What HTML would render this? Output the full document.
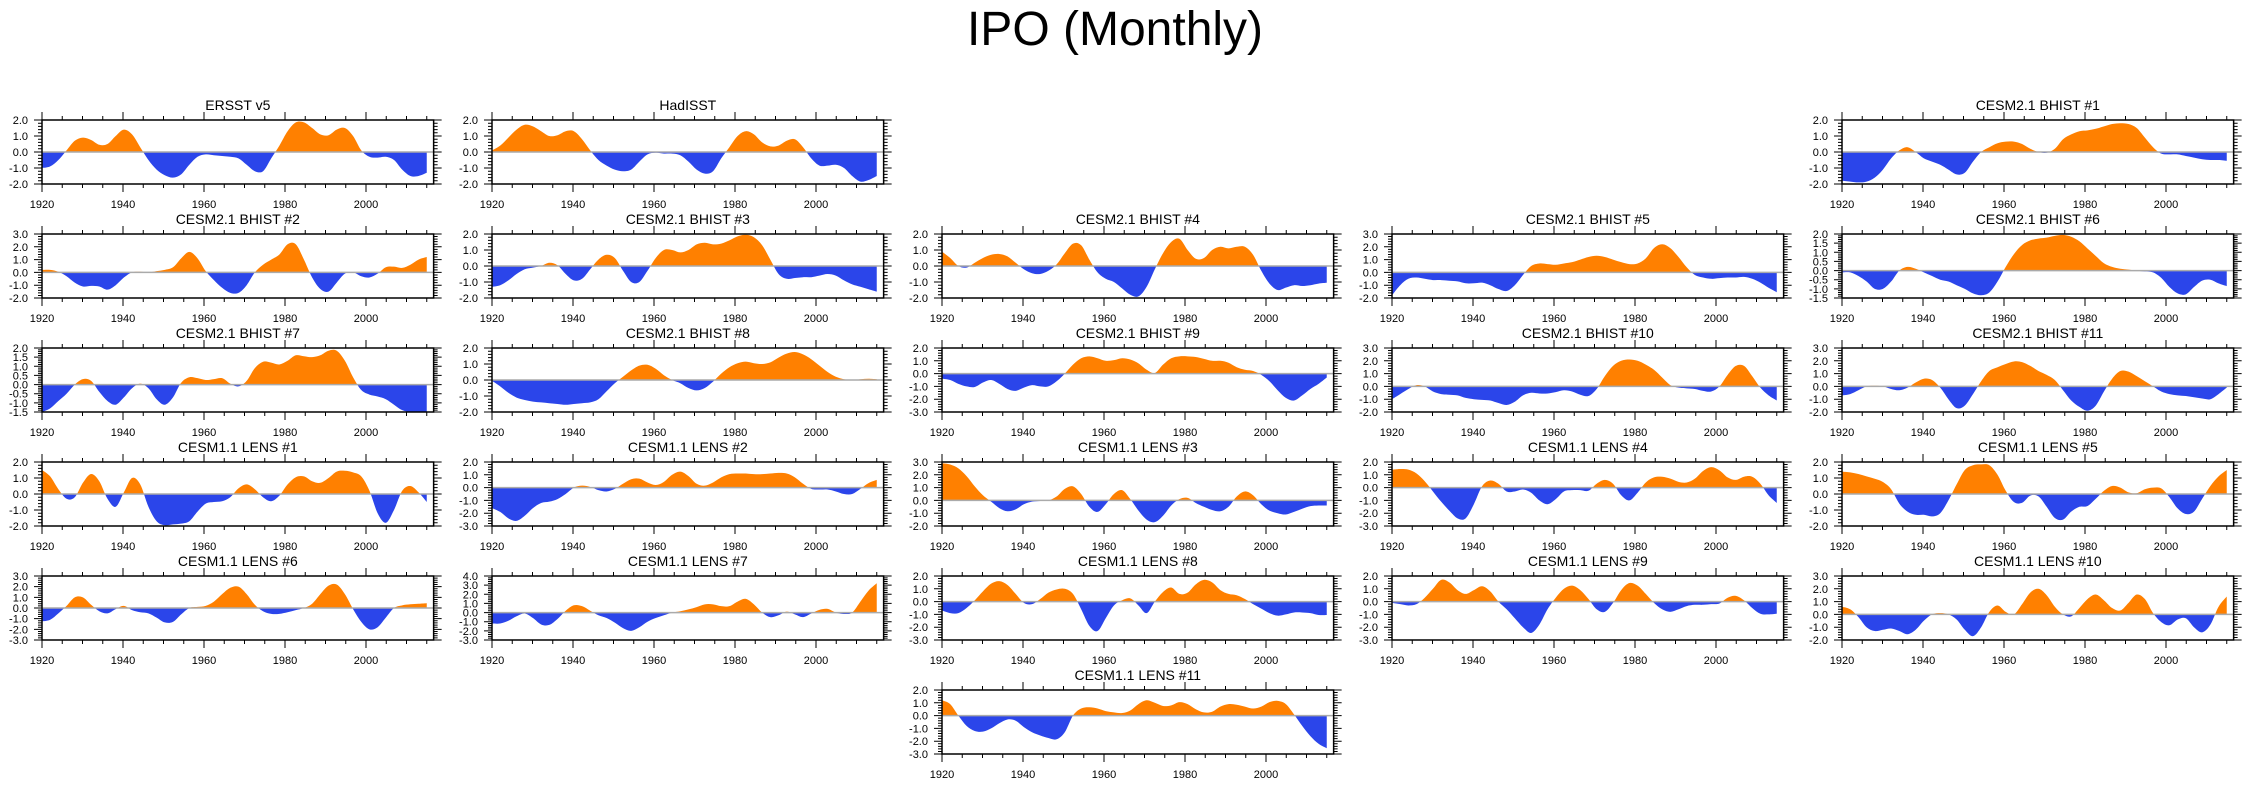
<!DOCTYPE html>
<html><head><meta charset="utf-8"><style>
html,body{margin:0;padding:0;background:#fff}
svg{display:block}
text{font-family:"Liberation Sans",sans-serif;fill:#000}
</style></head><body>
<svg id="chart" width="2245" height="786" viewBox="0 0 2245 786" xmlns="http://www.w3.org/2000/svg">
<text x="1115" y="45" font-size="48" text-anchor="middle">IPO (Monthly)</text>
</svg>
<script>
const ersst=[-1.0,-0.9,-0.5,0.1,0.7,0.9,0.75,0.45,0.5,1.0,1.4,1.1,0.3,-0.5,-1.1,-1.45,-1.6,-1.4,-0.8,-0.3,-0.15,-0.2,-0.25,-0.3,-0.4,-0.8,-1.2,-1.2,-0.4,0.4,1.3,1.85,1.85,1.5,1.1,1.05,1.4,1.5,1.0,0.1,-0.3,-0.35,-0.3,-0.5,-1.1,-1.5,-1.5,-1.3];
const hadisst=[0.1,0.4,0.9,1.4,1.7,1.6,1.3,1.0,1.05,1.3,1.3,0.8,0.1,-0.5,-0.85,-1.1,-1.2,-1.1,-0.6,-0.15,-0.05,-0.1,-0.1,-0.2,-0.6,-1.1,-1.35,-1.2,-0.4,0.3,1.0,1.3,1.1,0.6,0.35,0.4,0.7,0.8,0.3,-0.4,-0.85,-0.85,-0.8,-1.0,-1.5,-1.85,-1.75,-1.5];
const bhist1=[-1.8,-1.85,-1.9,-1.85,-1.6,-1.1,-0.4,0.1,0.3,0.0,-0.4,-0.6,-0.8,-1.1,-1.4,-1.3,-0.6,0.0,0.3,0.55,0.65,0.65,0.5,0.2,0.0,-0.05,0.2,0.8,1.1,1.3,1.35,1.45,1.6,1.75,1.8,1.75,1.5,0.9,0.3,-0.1,-0.15,-0.15,-0.25,-0.35,-0.45,-0.5,-0.5,-0.55];
const bhist2=[0.2,0.2,0.05,-0.3,-0.8,-1.1,-1.05,-1.1,-1.35,-1.0,-0.4,0.0,0.05,0.0,0.1,0.2,0.4,1.1,1.6,1.1,0.1,-0.6,-1.2,-1.6,-1.6,-1.0,0.0,0.6,1.0,1.4,2.2,2.2,1.0,-0.4,-1.3,-1.5,-0.8,-0.1,0.0,-0.3,-0.4,-0.1,0.4,0.45,0.35,0.6,1.0,1.2];
const bhist3=[-1.3,-1.2,-0.9,-0.5,-0.2,-0.1,0.0,0.2,0.05,-0.5,-0.9,-0.8,-0.2,0.4,0.7,0.5,-0.3,-1.0,-1.0,-0.3,0.5,1.0,1.0,0.85,1.0,1.35,1.45,1.35,1.4,1.6,1.85,1.95,1.8,1.3,0.4,-0.5,-0.8,-0.75,-0.7,-0.7,-0.6,-0.5,-0.6,-0.9,-1.15,-1.3,-1.45,-1.6];
const bhist4=[0.9,0.5,0.0,-0.1,0.2,0.5,0.7,0.75,0.6,0.2,-0.2,-0.45,-0.5,-0.3,0.1,0.8,1.4,1.3,0.4,-0.4,-0.8,-1.0,-1.4,-1.8,-1.9,-1.3,-0.2,0.8,1.5,1.7,1.0,0.45,0.5,1.0,1.2,1.1,1.2,1.2,0.7,-0.3,-1.1,-1.5,-1.35,-1.2,-1.25,-1.2,-1.1,-1.05];
const bhist5=[-1.8,-1.0,-0.5,-0.4,-0.5,-0.6,-0.6,-0.65,-0.7,-0.85,-0.85,-0.8,-1.0,-1.3,-1.45,-1.0,-0.2,0.5,0.7,0.65,0.6,0.7,0.8,1.0,1.2,1.3,1.2,1.0,0.8,0.65,0.7,1.1,1.9,2.2,1.9,1.2,0.4,-0.2,-0.4,-0.5,-0.45,-0.4,-0.4,-0.35,-0.5,-0.8,-1.2,-1.55];
const bhist6=[-0.1,-0.1,-0.3,-0.6,-1.0,-1.0,-0.6,0.0,0.2,0.1,-0.1,-0.3,-0.5,-0.6,-0.8,-1.0,-1.25,-1.35,-1.2,-0.6,0.2,0.9,1.4,1.65,1.75,1.8,1.9,1.95,1.85,1.6,1.2,0.8,0.4,0.2,0.1,0.05,0.0,-0.05,-0.1,-0.4,-0.9,-1.25,-1.3,-0.9,-0.55,-0.5,-0.7,-0.85];
const bhist7=[-1.5,-1.3,-0.9,-0.5,0.0,0.3,0.2,-0.4,-0.9,-1.1,-0.7,-0.2,0.05,-0.2,-0.8,-1.1,-0.7,0.1,0.4,0.35,0.25,0.3,0.35,0.05,-0.1,0.2,0.9,1.25,1.2,1.1,1.3,1.6,1.55,1.5,1.6,1.85,1.85,1.3,0.4,-0.3,-0.55,-0.65,-0.8,-1.1,-1.4,-1.5,-1.5,-1.5];
const bhist8=[-0.05,-0.4,-0.8,-1.1,-1.25,-1.35,-1.4,-1.45,-1.5,-1.55,-1.5,-1.45,-1.4,-1.2,-0.7,-0.2,0.2,0.6,0.9,0.95,0.7,0.3,0.0,-0.2,-0.5,-0.65,-0.5,-0.1,0.4,0.8,1.05,1.15,1.05,1.0,1.1,1.4,1.65,1.75,1.6,1.3,0.9,0.5,0.2,0.05,0.0,0.05,0.08,0.05];
const bhist9=[-0.4,-0.5,-0.8,-1.0,-1.05,-0.7,-0.5,-0.8,-1.2,-1.35,-1.1,-0.9,-1.0,-1.0,-0.6,0.0,0.7,1.2,1.35,1.2,1.0,1.05,1.2,1.1,0.8,0.3,0.05,0.7,1.2,1.35,1.35,1.3,1.15,1.0,1.0,0.85,0.5,0.3,0.2,-0.1,-0.6,-1.3,-1.9,-2.1,-1.7,-1.2,-0.8,-0.3];
const bhist10=[-1.0,-0.6,-0.2,0.1,0.0,-0.4,-0.6,-0.65,-0.7,-0.9,-1.0,-1.05,-1.1,-1.3,-1.45,-1.2,-0.7,-0.5,-0.55,-0.55,-0.45,-0.3,-0.4,-0.65,-0.75,-0.2,0.8,1.6,2.0,2.1,2.0,1.7,1.3,0.7,0.1,-0.1,-0.15,-0.2,-0.35,-0.4,0.0,0.9,1.6,1.6,0.8,-0.1,-0.7,-1.1];
const bhist11=[-0.7,-0.6,-0.3,0.0,0.05,0.0,-0.2,-0.3,-0.1,0.3,0.6,0.5,-0.1,-1.0,-1.7,-1.5,-0.6,0.4,1.2,1.5,1.75,1.95,1.9,1.6,1.2,0.9,0.5,-0.3,-1.1,-1.6,-1.9,-1.5,-0.4,0.6,1.2,1.15,0.8,0.4,0.0,-0.4,-0.6,-0.7,-0.75,-0.85,-0.95,-1.0,-0.6,-0.1];
const lens1=[1.5,1.1,0.3,-0.3,-0.2,0.7,1.25,0.8,-0.3,-0.8,0.1,1.0,0.6,-0.8,-1.7,-1.95,-1.9,-1.85,-1.7,-1.1,-0.6,-0.5,-0.45,-0.2,0.35,0.6,0.3,-0.2,-0.45,-0.1,0.6,1.05,1.1,0.8,0.7,1.0,1.4,1.45,1.35,1.1,0.2,-1.2,-1.8,-1.0,0.2,0.5,0.1,-0.5];
const lens2=[-1.6,-1.9,-2.4,-2.6,-2.2,-1.6,-1.2,-1.1,-0.9,-0.5,0.0,0.15,0.05,-0.2,-0.3,-0.1,0.3,0.65,0.7,0.4,0.2,0.45,1.0,1.25,0.9,0.3,0.15,0.4,0.8,1.05,1.1,1.1,1.05,1.05,1.1,1.15,1.1,0.8,0.3,-0.1,-0.15,-0.15,-0.3,-0.5,-0.5,-0.1,0.35,0.6];
const lens3=[2.9,2.8,2.5,1.9,1.1,0.4,-0.1,-0.6,-0.85,-0.7,-0.3,-0.1,-0.05,0.0,0.3,0.9,1.1,0.5,-0.5,-0.9,-0.3,0.5,0.8,0.1,-0.8,-1.5,-1.7,-1.2,-0.4,0.1,0.2,-0.2,-0.5,-0.75,-0.85,-0.5,0.3,0.7,0.4,-0.3,-0.8,-1.0,-1.1,-0.9,-0.65,-0.45,-0.4,-0.4];
const lens4=[1.4,1.45,1.4,1.1,0.5,-0.3,-1.1,-1.8,-2.4,-2.4,-1.3,0.1,0.55,0.3,-0.3,-0.3,-0.15,-0.4,-1.0,-1.3,-0.9,-0.3,-0.2,-0.2,-0.25,0.3,0.6,0.3,-0.6,-1.0,-0.4,0.4,0.8,0.85,0.7,0.45,0.4,0.7,1.3,1.6,1.35,0.8,0.6,0.85,0.85,0.3,-0.6,-1.2];
const lens5=[1.4,1.35,1.25,1.1,0.95,0.75,0.3,-0.6,-1.1,-1.3,-1.3,-1.4,-1.2,-0.4,0.6,1.5,1.8,1.85,1.8,1.2,0.2,-0.5,-0.55,-0.1,-0.15,-0.8,-1.5,-1.6,-1.1,-0.8,-0.75,-0.3,0.2,0.5,0.4,0.1,0.05,0.3,0.4,0.35,-0.2,-0.9,-1.25,-1.1,-0.3,0.5,1.1,1.5];
const lens6=[-1.25,-1.1,-0.5,0.2,1.0,1.0,0.3,-0.3,-0.5,-0.1,0.2,-0.2,-0.4,-0.5,-0.9,-1.35,-1.3,-0.6,0.0,0.1,0.2,0.6,1.3,1.9,2.0,1.3,0.3,-0.3,-0.55,-0.55,-0.4,-0.2,0.0,0.4,1.3,2.1,2.2,1.3,-0.1,-1.3,-2.0,-1.8,-0.9,0.0,0.25,0.35,0.4,0.45];
const lens7=[-1.2,-1.2,-0.9,-0.4,-0.1,-0.6,-1.3,-1.35,-0.7,0.2,0.8,0.7,0.2,-0.3,-0.6,-1.1,-1.7,-2.0,-1.6,-1.0,-0.6,-0.3,0.0,0.15,0.35,0.6,0.9,0.9,0.7,0.7,1.2,1.5,0.9,0.0,-0.5,-0.3,0.1,-0.2,-0.5,-0.1,0.3,0.4,0.0,-0.15,0.0,1.2,2.4,3.2];
const lens8=[-0.7,-0.9,-0.9,-0.5,0.1,0.8,1.4,1.6,1.3,0.6,-0.1,-0.2,0.2,0.7,0.95,1.0,0.6,-0.6,-1.9,-2.3,-1.3,-0.3,0.1,0.25,-0.3,-0.9,0.0,0.75,1.1,0.6,0.7,1.35,1.7,1.5,0.9,0.6,0.5,0.2,-0.2,-0.55,-0.9,-1.1,-1.0,-0.85,-0.85,-0.9,-1.05,-1.05];
const lens9=[-0.1,-0.2,-0.3,-0.2,0.3,1.0,1.7,1.5,0.9,0.6,0.9,1.2,0.8,0.0,-0.6,-1.3,-2.0,-2.45,-1.8,-0.6,0.3,1.0,1.25,0.9,0.2,-0.6,-0.8,-0.1,0.9,1.45,1.25,0.6,-0.1,-0.6,-0.8,-0.6,-0.35,-0.25,-0.25,-0.2,-0.15,0.3,0.45,0.1,-0.5,-0.95,-1.0,-0.95];
const lens10=[0.6,0.4,-0.2,-1.0,-1.3,-1.2,-1.1,-1.3,-1.55,-1.2,-0.5,0.0,0.1,0.0,-0.4,-1.2,-1.7,-1.0,0.2,0.7,0.2,0.0,0.8,1.7,2.0,1.5,0.6,0.0,-0.15,0.5,1.2,1.55,1.1,0.5,0.3,0.9,1.55,1.2,0.1,-0.6,-0.85,-0.4,-0.3,-1.0,-1.4,-0.8,0.6,1.4];
const lens11=[1.2,0.9,0.0,-0.8,-1.2,-1.25,-1.0,-0.6,-0.3,-0.4,-0.9,-1.3,-1.55,-1.75,-1.85,-1.3,0.0,0.55,0.65,0.55,0.35,0.25,0.2,0.4,0.9,1.2,1.0,0.75,0.8,1.05,0.9,0.5,0.25,0.3,0.7,0.9,0.85,0.7,0.55,0.7,1.05,1.15,0.9,0.1,-0.8,-1.6,-2.2,-2.55];

const panelTitles=["ERSST v5","HadISST","CESM2.1 BHIST #1","CESM2.1 BHIST #2","CESM2.1 BHIST #3","CESM2.1 BHIST #4","CESM2.1 BHIST #5","CESM2.1 BHIST #6","CESM2.1 BHIST #7","CESM2.1 BHIST #8","CESM2.1 BHIST #9","CESM2.1 BHIST #10","CESM2.1 BHIST #11","CESM1.1 LENS #1","CESM1.1 LENS #2","CESM1.1 LENS #3","CESM1.1 LENS #4","CESM1.1 LENS #5","CESM1.1 LENS #6","CESM1.1 LENS #7","CESM1.1 LENS #8","CESM1.1 LENS #9","CESM1.1 LENS #10","CESM1.1 LENS #11"];
const panelSeries=[ersst,hadisst,bhist1,bhist2,bhist3,bhist4,bhist5,bhist6,bhist7,bhist8,bhist9,bhist10,bhist11,lens1,lens2,lens3,lens4,lens5,lens6,lens7,lens8,lens9,lens10,lens11];
const panelYMin=[-2,-2,-2,-2,-2,-2,-2,-1.5,-1.5,-2,-3,-2,-2,-2,-3,-2,-3,-2,-3,-3,-3,-3,-2,-3];
const panelYMax=[2,2,2,3,2,2,3,2,2,2,2,3,3,2,2,3,2,2,3,4,2,2,3,2];
const panelYStep=[1,1,1,1,1,1,1,0.5,0.5,1,1,1,1,1,1,1,1,1,1,1,1,1,1,1];
const panelCol=[0,1,4,0,1,2,3,4,0,1,2,3,4,0,1,2,3,4,0,1,2,3,4,2];
const panelRow=[0,0,0,1,1,1,1,1,2,2,2,2,2,3,3,3,3,3,4,4,4,4,4,5];
const yearTicks=[1920,1940,1960,1980,2000];

const NS="http://www.w3.org/2000/svg";
const svg=document.getElementById('chart');
const colLeft=[42,492,942,1392,1842], rowTop=[120,234,348,462,576,690];
const PH=64, PXY=4.05, FRAME_END=2016.7, DATA_START=1920, DATA_END=2015;
function mk(tag,attrs,parent){const e=document.createElementNS(NS,tag);for(const k in attrs)e.setAttribute(k,attrs[k]);(parent||svg).appendChild(e);return e;}
function smoothPath(pts){let d="M"+pts[0][0]+","+pts[0][1];for(let i=0;i<pts.length-1;i++){const p0=pts[Math.max(0,i-1)],p1=pts[i],p2=pts[i+1],p3=pts[Math.min(pts.length-1,i+2)];const c1x=p1[0]+(p2[0]-p0[0])/6,c1y=p1[1]+(p2[1]-p0[1])/6,c2x=p2[0]-(p3[0]-p1[0])/6,c2y=p2[1]-(p3[1]-p1[1])/6;d+=" C"+c1x.toFixed(2)+","+c1y.toFixed(2)+" "+c2x.toFixed(2)+","+c2y.toFixed(2)+" "+p2[0].toFixed(2)+","+p2[1].toFixed(2);}return d;}

panelTitles.forEach((title,p)=>{
  const L=colLeft[panelCol[p]], T=rowTop[panelRow[p]], B=T+PH, R=L+(FRAME_END-1920)*PXY;
  const ymin=panelYMin[p], ymax=panelYMax[p], step=panelYStep[p], vals=panelSeries[p];
  const xS=y=>L+(y-1920)*PXY;
  const yS=v=>B-(v-ymin)/(ymax-ymin)*PH;
  const g=mk('g',{});
  
  
  const t=mk('text',{x:(L+R)/2,y:T-10,'font-size':14,'text-anchor':'middle'},g);
  t.textContent=title;
  
  
  const n=vals.length;
  const pts=vals.map((v,i)=>[xS(DATA_START+i*(DATA_END-DATA_START)/(n-1)),yS(v)]);
  const z=yS(0);
  const d=smoothPath(pts)+" L"+pts[n-1][0].toFixed(2)+","+z+" L"+pts[0][0].toFixed(2)+","+z+" Z";
  const cid='c'+p;
  const defs=mk('defs',{},g);
  mk('clipPath',{id:cid+'a'},defs).appendChild(Object.assign(document.createElementNS(NS,'rect'),{}));
  defs.lastChild.firstChild.setAttribute('x',L);defs.lastChild.firstChild.setAttribute('y',T);defs.lastChild.firstChild.setAttribute('width',R-L);defs.lastChild.firstChild.setAttribute('height',z-T);
  const cb=mk('clipPath',{id:cid+'b'},defs);mk('rect',{x:L,y:z,width:R-L,height:B-z},cb);
  const pos=mk('path',{d:d,fill:'#ff8000','clip-path':'url(#'+cid+'a)'},g);
  
  
  const neg=mk('path',{d:d,fill:'#2b45ea','clip-path':'url(#'+cid+'b)'},g);
  
  
  const zl=mk('line',{x1:L,x2:R,y1:z,y2:z,stroke:'#aaa','stroke-width':1.5},g);
  
  
  const fr=mk('rect',{x:L,y:T,width:R-L,height:PH,fill:'none',stroke:'#000','stroke-width':1.5},g);
  
  
  let tk="";
  for(let yr=1920;yr<=FRAME_END;yr+=5){const x=xS(yr),len=(yr%20===0)?8:4;tk+="M"+x+","+T+"v"+(-len)+"M"+x+","+B+"v"+len;}
  const minorStep=step/5;
  for(let k=0;k<=Math.round((ymax-ymin)/minorStep);k++){const v=ymin+k*minorStep,y=yS(v);const major=Math.abs(v/step-Math.round(v/step))<1e-6;const len=major?8:4;tk+="M"+L+","+y+"h"+(-len)+"M"+R+","+y+"h"+len;}
  const ticks=mk('path',{d:tk,stroke:'#000','stroke-width':1,fill:'none'},g);
  
  
  yearTicks.forEach(yr=>{const tt=mk('text',{x:xS(yr),y:B+24,'font-size':11,'text-anchor':'middle'},g);tt.textContent=String(yr);
    
    });
  for(let k=0;k<=Math.round((ymax-ymin)/step);k++){const v=ymin+k*step;const tt=mk('text',{x:L-14,y:yS(v)+4,'font-size':11,'text-anchor':'end'},g);tt.textContent=v.toFixed(1);
    
    }
});
</script>
</body></html>
